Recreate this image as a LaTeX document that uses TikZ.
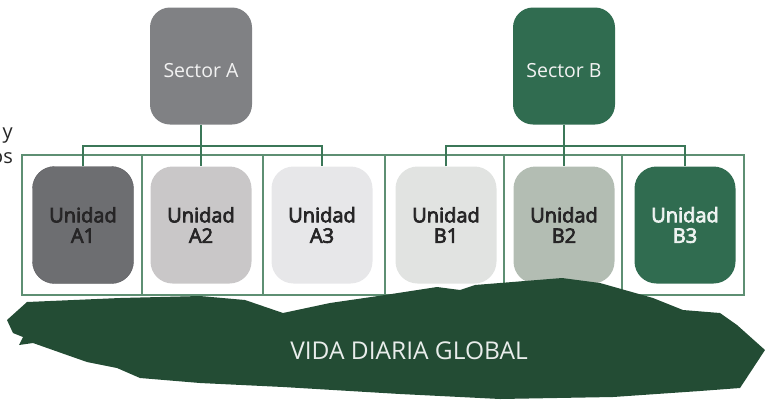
\documentclass[tikz,border=0pt]{standalone}
\usepackage{fontspec}
\setmainfont{Open Sans}
\newfontfamily\unitfont[FakeBold=3.5]{Open Sans}
\definecolor{lineGreen}{HTML}{3B7758}
\definecolor{frameGreen}{HTML}{5E8F73}
\definecolor{secAfill}{HTML}{808184}
\definecolor{secBfill}{HTML}{306C50}
\definecolor{uA1}{HTML}{6D6E71}
\definecolor{uA2}{HTML}{C9C7C8}
\definecolor{uA3}{HTML}{E7E7E9}
\definecolor{uB1}{HTML}{E1E3E1}
\definecolor{uB2}{HTML}{B3BDB3}
\definecolor{uB3}{HTML}{306C50}
\definecolor{blobGreen}{HTML}{234C34}
\definecolor{unitText}{HTML}{262526}
\begin{document}
\begin{tikzpicture}[x=1pt,y=-1pt,
  sectorbox/.style={rounded corners=20pt, minimum width=102pt, minimum height=117pt,
    inner sep=0pt, text height=22pt, text depth=0pt,
    text=white!95!black, font=\fontsize{19.5}{22}\selectfont},
  unitbox/.style={rounded corners=22pt, minimum width=101pt, minimum height=117pt,
    inner sep=0pt, align=center, text=unitText,
    font=\unitfont\fontsize{20}{20.5}\selectfont},
  conn/.style={draw=lineGreen, line width=2.4pt},
  cell/.style={draw=frameGreen, line width=1.2pt},
  fragment/.style={anchor=base east, inner sep=0pt, text=black!85,
    font=\fontsize{20}{22}\selectfont}]
\useasboundingbox (0,0) rectangle (765,400);

% cut-off words of the neighbouring text column
\node[fragment] (fragY) at (13,138) {y};
\node[fragment] (fragOs) at (13,163) {os};

% frame of six cells
\draw[cell] (22,155) rectangle (744,295);
\foreach \xx in {142,263,385,504,622}
  \draw[cell] (\xx,155) -- (\xx,295);

% sectors
\node[sectorbox, fill=secAfill] (secA) at (201,66) {Sector A};
\node[sectorbox, fill=secBfill] (secB) at (564,66) {Sector B};

% units
\node[unitbox, fill=uA1, draw=uA1!85!black] (a1) at (83,225) {Unidad\\A1};
\node[unitbox, fill=uA2] (a2) at (201,225) {Unidad\\A2};
\node[unitbox, fill=uA3] (a3) at (322,225) {Unidad\\A3};
\node[unitbox, fill=uB1] (b1) at (446,225) {Unidad\\B1};
\node[unitbox, fill=uB2] (b2) at (564,225) {Unidad\\B2};
\node[unitbox, fill=uB3, text=white!92!uB3] (b3) at (685,225) {Unidad\\B3};

% connectors
\coordinate (busA) at (201,146);
\coordinate (busB) at (564,146);
\draw[conn] (secA.south) -- (busA) -- (a2.north);
\draw[conn] (a1.north) |- (busA) -| (a3.north);
\draw[conn] (secB.south) -- (busB) -- (b2.north);
\draw[conn] (b1.north) |- (busB) -| (b3.north);

% ground shape
\fill[blobGreen] (27,302) -- (120,298) -- (200,296) -- (245,300) -- (283,313)
  -- (330,303) -- (385,295) -- (437,287) -- (460,290) -- (475,285) -- (562,278)
  -- (600,283) -- (653,298) -- (683,310) -- (720,313) -- (737,325) -- (765,350)
  -- (740,388) -- (700,391) -- (613,397) -- (500,399) -- (400,394) -- (283,387)
  -- (200,383) -- (140,378) -- (117,368) -- (87,362) -- (67,355) -- (33,343)
  -- (19,345) -- (23,337) -- (13,333) -- (7,320) -- cycle;
\node[text=white!90!blobGreen, font=\fontsize{24.5}{27}\selectfont, inner sep=0pt]
  (vida) at (409,351) {VIDA DIARIA GLOBAL};
\end{tikzpicture}
\end{document}
